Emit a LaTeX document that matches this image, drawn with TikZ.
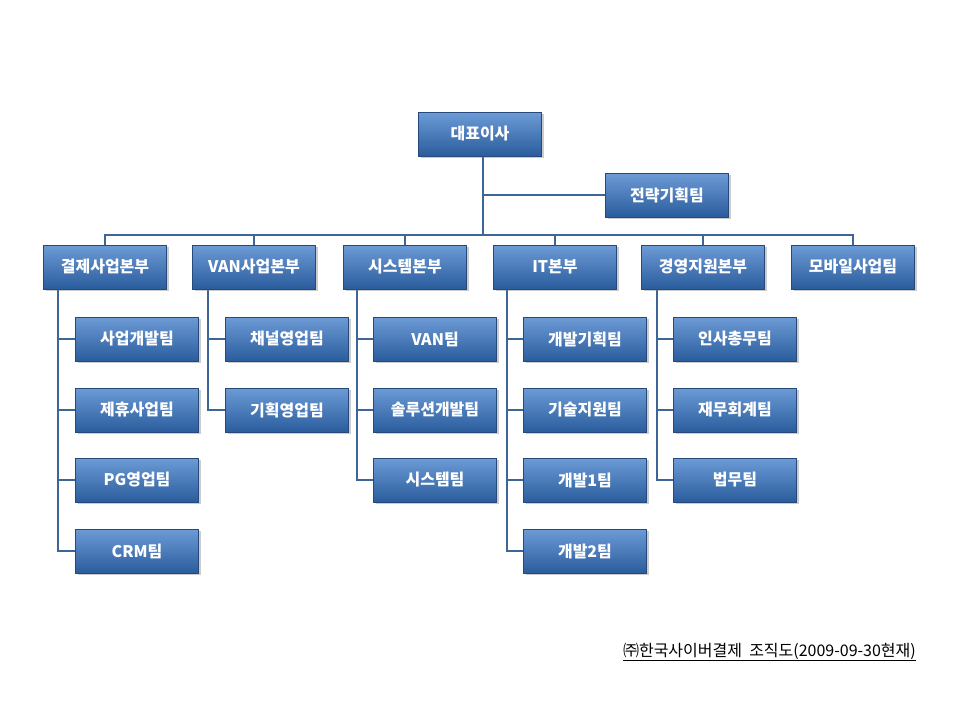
\documentclass[tikz,border=0pt]{standalone}
\usepackage{fontspec}
\setmainfont{Noto Sans CJK KR}
\usetikzlibrary{shadows}
\definecolor{ln}{HTML}{3D6596}
\definecolor{bt}{HTML}{6C9BD6}
\definecolor{bb}{HTML}{2A5C9C}
\definecolor{bd}{HTML}{24497A}
\begin{document}
\begin{tikzpicture}[x=1pt,y=-1pt,
  bx/.style={draw=bd,line width=0.8pt,top color=bt,bottom color=bb,minimum width=123pt,minimum height=44pt,inner sep=0pt,text=white,font=\bfseries\fontsize{16}{18}\selectfont,drop shadow={shadow xshift=2pt,shadow yshift=-2pt,opacity=0.4}},
  cn/.style={ln,line width=2.6pt}]
\useasboundingbox (0,0) rectangle (960,720);
\fill[white] (0,0) rectangle (960,720);
% connectors
\coordinate (b1) at (105,235);\coordinate (b6) at (853,235);
\draw[cn] (483,157) -- (483,235);
\draw[cn] (483,195) -- (605,195);
\draw[cn] (105,245) -- (105,235) -- (853,235) -- (853,245);
\foreach \x in {254,405,555,703} \draw[cn] (\x,235) -- (\x,245);
\draw[cn] (58,290) -- (58,551) -- (76,551);
\foreach \y in {339,410,480} \draw[cn] (58,\y) -- (76,\y);
\draw[cn] (208,290) -- (208,410) -- (225,410); \draw[cn] (208,339) -- (225,339);
\draw[cn] (357,290) -- (357,480) -- (374,480); \foreach \y in {339,410} \draw[cn] (357,\y) -- (374,\y);
\draw[cn] (507,290) -- (507,551) -- (523,551); \foreach \y in {339,410,480} \draw[cn] (507,\y) -- (523,\y);
\draw[cn] (657,290) -- (657,480) -- (673,480); \foreach \y in {339,410} \draw[cn] (657,\y) -- (673,\y);
% nodes
\node[bx] (ceo) at (480,134) {대표이사};
\node[bx] (st) at (667,195) {전략기획팀};
\node[bx] (d1) at (105,267) {결제사업본부};
\node[bx] (d2) at (254,267) {VAN사업본부};
\node[bx] (d3) at (405,267) {시스템본부};
\node[bx] (d4) at (555,267) {IT본부};
\node[bx] (d5) at (703,267) {경영지원본부};
\node[bx] (d6) at (853,267) {모바일사업팀};
\node[bx] (a1) at (137,339) {사업개발팀};
\node[bx] (a2) at (137,410) {제휴사업팀};
\node[bx] (a3) at (137,480) {PG영업팀};
\node[bx] (a4) at (137,551) {CRM팀};
\node[bx] (v1) at (287,339) {채널영업팀};
\node[bx] (v2) at (287,410) {기획영업팀};
\node[bx] (s1) at (435,339) {VAN팀};
\node[bx] (s2) at (435,410) {솔루션개발팀};
\node[bx] (s3) at (435,480) {시스템팀};
\node[bx] (i1) at (585,339) {개발기획팀};
\node[bx] (i2) at (585,410) {기술지원팀};
\node[bx] (i3) at (585,480) {개발1팀};
\node[bx] (i4) at (585,551) {개발2팀};
\node[bx] (m1) at (735,339) {인사총무팀};
\node[bx] (m2) at (735,410) {재무회계팀};
\node[bx] (m3) at (735,480) {법무팀};
\node[anchor=east,inner sep=0pt,font=\fontsize{16}{18}\selectfont] (ft) at (916,652) {\underline{㈜한국사이버결제\ \ 조직도(2009-09-30현재)}};
\end{tikzpicture}
\end{document}
